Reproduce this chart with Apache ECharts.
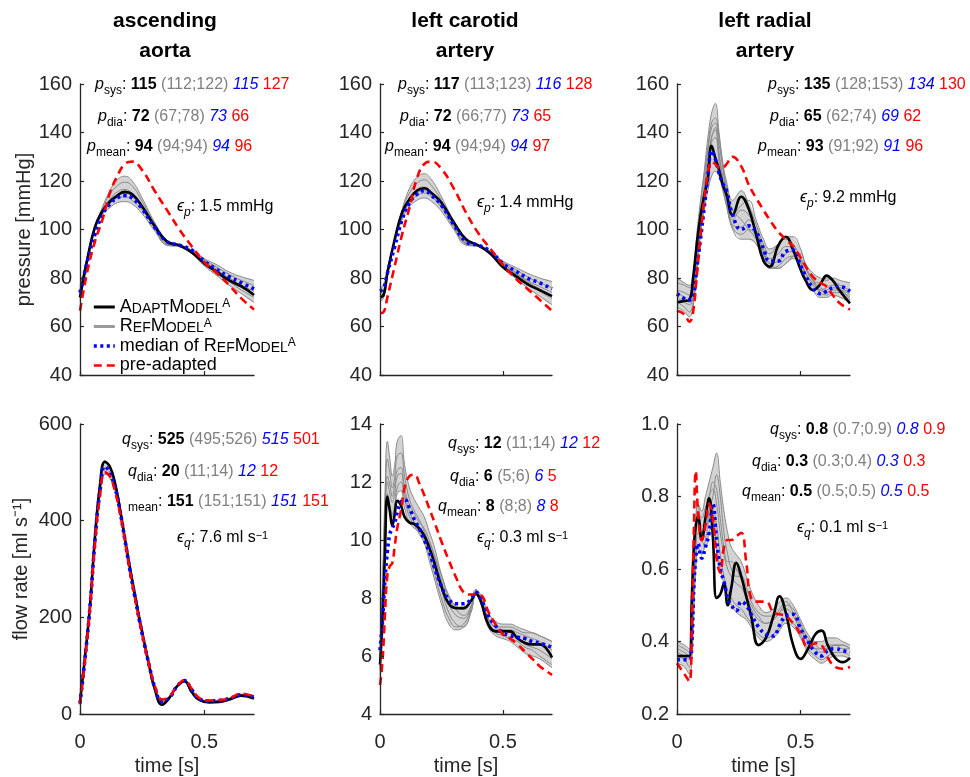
<!DOCTYPE html>
<html><head><meta charset="utf-8">
<script src="https://cdn.jsdelivr.net/npm/echarts@6/dist/echarts.min.js"></script>
<style>html,body{margin:0;padding:0;background:#fff}#c{width:970px;height:777px}</style>
</head><body><div id="c"></div>
<script>
// ---------------- DATA ----------------
// ascending aorta pressure [mmHg]
const T1 = [0, 0.03, 0.06, 0.09, 0.12, 0.15, 0.18, 0.21, 0.25, 0.30, 0.35, 0.40, 0.45, 0.50, 0.55, 0.60, 0.65, 0.70];
const aoP_black = [72, 88, 101, 107.5, 111.5, 114, 115.5, 114.5, 109.5, 101.5, 95, 93.5, 90.5, 86, 82.5, 79, 76.5, 73];
const aoP_red   = [66.5, 83, 95, 104, 115, 122, 127, 128, 124.5, 116, 108, 100, 93, 86.5, 82, 77, 71.5, 67];
const aoP_blue  = [74, 87, 98, 106, 110.5, 113, 114, 113, 108.5, 101, 95, 93.5, 91.5, 87, 83.5, 80.5, 78, 75.5];
const aoP_g1 = [70, 86, 100, 109, 116, 120.5, 122, 120, 113, 103, 95.5, 93, 90, 85, 81, 77, 73.5, 70];
const aoP_g2 = [71, 87, 101, 109, 114.5, 118, 119.5, 118, 111.5, 102.5, 95, 93.5, 90.5, 86, 82, 78.5, 75, 72];
const aoP_g3 = [72.5, 88, 101, 108, 112.5, 115.5, 116.5, 115, 110, 101.5, 94.5, 93.5, 91, 87, 83.5, 80, 77, 74.5];
const aoP_g4 = [74, 89, 101, 107, 110.5, 113, 113.5, 112, 108, 100.5, 94, 93.5, 91.5, 87.5, 84.5, 81.5, 79, 77];
const aoP_g5 = [75.5, 89, 100, 106, 109, 111, 111.5, 110.5, 106.5, 99.5, 93.5, 93, 91.5, 88, 85.5, 82.5, 80.5, 79];
const aoP_g6 = [73, 88, 100.5, 107.5, 111.5, 114, 115, 113.5, 109, 100.5, 93.5, 93, 90.5, 86.5, 83, 79.5, 76, 73.5];

// left carotid pressure [mmHg]
const T2 = [0, 0.015, 0.03, 0.06, 0.09, 0.12, 0.15, 0.18, 0.21, 0.25, 0.30, 0.35, 0.40, 0.45, 0.50, 0.55, 0.60, 0.65, 0.70];
const caP_black = [72, 73, 82, 96, 107, 112.5, 116, 117, 115, 111, 103, 96, 93.5, 90, 84.5, 81, 77.5, 75, 72.5];
const caP_red   = [65.5, 66, 72, 85, 98, 109, 121, 127, 128, 125, 117, 107, 98.5, 92, 85.5, 80, 75.5, 71, 66.5];
const caP_blue  = [74.5, 76, 82, 93, 104, 111, 114.5, 116, 114, 110, 102, 95, 93.5, 91, 86, 83, 80, 78, 75.5];
const caP_g1 = [70, 72, 81, 95, 108, 117, 121.5, 123, 120.5, 113.5, 103.5, 95.5, 93, 89.5, 84, 80, 76, 72.5, 69];
const caP_g2 = [71, 73, 82, 96, 108, 115, 119, 120.5, 118, 112, 102.5, 95, 93.5, 90, 85, 81.5, 78, 74.5, 71.5];
const caP_g3 = [72.5, 74, 83, 96, 107, 113, 116.5, 117.5, 115.5, 110.5, 102, 94.5, 93.5, 90.5, 86, 82.5, 79, 76.5, 74];
const caP_g4 = [74, 75, 83, 95, 105, 111, 114, 115, 113.5, 109, 101, 94, 93.5, 91, 86.5, 83.5, 80.5, 78, 76];
const caP_g5 = [76, 77, 84, 95, 104, 109.5, 112, 113, 111.5, 107.5, 100, 93.5, 93, 91, 87, 84.5, 82, 80, 78.5];
const caP_g6 = [73, 74, 82.5, 95.5, 106, 112, 115, 116, 114, 109.5, 101.5, 94, 93, 90.5, 85.5, 82, 78.5, 75.5, 72.5];

// left radial pressure [mmHg]
const T3 = [0, 0.03, 0.05, 0.065, 0.08, 0.095, 0.11, 0.125, 0.14, 0.155, 0.17, 0.185, 0.2, 0.225, 0.26, 0.29, 0.32, 0.35, 0.375, 0.41, 0.44, 0.47, 0.5, 0.52, 0.55, 0.58, 0.605, 0.63, 0.66, 0.7];
const raP_black = [70, 70.5, 71, 80, 94, 105.5, 114, 121, 134.5, 129.5, 124.5, 118.5, 114.5, 106, 113.5, 108.5, 98, 87, 84.7, 93.5, 97, 91.5, 83.5, 79, 75, 77.5, 81, 79, 74.5, 69.5];
const raP_red   = [66.5, 65, 62, 66, 81, 97, 112, 123, 128, 127, 125.5, 125.5, 127, 130, 126, 118.5, 113, 108, 104, 99, 96, 93, 88.5, 85, 80.5, 78, 76.5, 73, 69.5, 67];
const raP_blue  = [73.5, 71.5, 71, 72, 84, 96, 109, 122, 132.5, 129, 123.5, 119, 116, 106, 100, 101.5, 99, 92, 87, 87, 91, 91.5, 85, 81, 76, 73.5, 74.5, 76, 76.5, 74.5];
const raP_g1 = [78, 77, 76, 80, 98, 112, 124, 138, 148, 152, 140, 128, 120, 112, 116, 110, 102, 94, 90, 94, 96, 94, 88, 84, 79, 78, 80, 79, 77, 75];
const raP_g2 = [72, 70, 69, 72, 88, 104, 118, 132, 142, 144, 132, 122, 114, 104, 108, 106, 100, 92, 88, 90, 93, 92, 87, 82, 77, 75, 76, 77, 76, 74];
const raP_g3 = [68, 66, 64, 68, 82, 98, 112, 126, 138, 141, 135, 126, 118, 108, 104, 100, 96, 90, 86, 87, 90, 91, 88, 84, 79, 76, 75, 76, 75, 72];
const raP_g4 = [75, 74, 73, 76, 92, 106, 116, 128, 136, 138, 130, 120, 112, 101, 98, 100, 97, 89, 84, 85, 88, 89, 86, 80, 75, 72, 72, 73, 72, 70];
const raP_g5 = [80, 78, 77, 79, 95, 110, 122, 134, 144, 146, 138, 126, 116, 106, 110, 112, 104, 96, 92, 94, 97, 97, 92, 86, 82, 80, 79, 80, 79, 78];
const raP_g6 = [70, 68, 66, 70, 85, 100, 114, 128, 138, 142, 128, 118, 110, 102, 101, 104, 99, 91, 86, 84, 86, 89, 90, 85, 79, 74, 73, 74, 74, 71];
const raP_g7 = [74, 72, 70, 72, 85, 98, 108, 116, 122, 124, 122, 116, 110, 100, 96, 96, 94, 88, 84, 84, 86, 88, 86, 82, 78, 75, 74, 75, 75, 73];

// ascending aorta flow [ml/s]
const T4 = [0, 0.02, 0.04, 0.06, 0.08, 0.1, 0.12, 0.14, 0.16, 0.18, 0.2, 0.22, 0.24, 0.26, 0.28, 0.3, 0.33, 0.36, 0.39, 0.42, 0.45, 0.48, 0.52, 0.56, 0.6, 0.65, 0.7];
const aoQ_black = [25, 118, 222, 365, 472, 522, 512, 480, 427, 366, 305, 250, 195, 145, 96, 53, 19, 34, 57, 68, 45, 29, 24, 25, 30, 38, 32];
const aoQ_red   = [20, 110, 218, 350, 450, 500, 492, 462, 418, 360, 298, 243, 190, 142, 98, 60, 30, 36, 58, 70, 52, 33, 28, 29, 32, 42, 36];
const aoQ_blue  = [22, 114, 220, 357, 460, 512, 500, 470, 423, 362, 300, 245, 191, 142, 97, 57, 26, 34, 57, 69, 50, 31, 27, 28, 32, 40, 35];
const aoQ_g1 = [24, 117, 222, 362, 468, 524, 512, 480, 426, 365, 303, 248, 193, 144, 97, 56, 24, 35, 58, 70, 50, 31, 27, 28, 32, 40, 35];
const aoQ_g2 = [22, 112, 215, 350, 450, 496, 488, 462, 418, 360, 299, 244, 191, 143, 98, 59, 28, 36, 58, 69, 51, 32, 28, 29, 33, 41, 36];
const aoQ_g3 = [23, 115, 219, 356, 460, 510, 500, 471, 422, 362, 301, 246, 192, 143, 97, 57, 26, 35, 57, 69, 50, 31, 27, 28, 32, 40, 35];

// left carotid flow [ml/s]
const T5 = [0, 0.01, 0.02, 0.03, 0.04, 0.05, 0.06, 0.07, 0.085, 0.1, 0.12, 0.14, 0.16, 0.18, 0.2, 0.22, 0.25, 0.28, 0.31, 0.34, 0.37, 0.39, 0.41, 0.44, 0.47, 0.5, 0.53, 0.56, 0.59, 0.62, 0.65, 0.7];
const caQ_black = [5.7, 7.2, 9.5, 11.5, 11, 10.5, 10.9, 11.35, 11.2, 10.8, 10.6, 10.55, 10.4, 10.15, 9.75, 9.25, 8.4, 7.8, 7.65, 7.65, 7.9, 8.15, 7.9, 7.1, 6.85, 6.85, 6.85, 6.6, 6.45, 6.4, 6.4, 5.95];
const caQ_red   = [5, 5.8, 7.4, 8.8, 9.1, 9.2, 9.8, 10.4, 11, 11.8, 12.2, 12.25, 11.95, 11.55, 11.1, 10.65, 9.95, 9.3, 8.7, 8.2, 8.12, 8.12, 8.1, 7.55, 7.1, 6.75, 6.6, 6.4, 6.15, 5.9, 5.65, 5.35];
const caQ_blue  = [6.2, 7.2, 8.6, 9.6, 10.2, 10.4, 10.6, 10.95, 11.3, 11.4, 11.1, 10.7, 10.4, 10, 9.6, 9.1, 8.4, 7.95, 7.8, 7.8, 7.95, 8.2, 8.0, 7.4, 7.05, 6.8, 6.7, 6.65, 6.6, 6.5, 6.45, 6.3];
const caQ_g1 = [5.8, 8.5, 11.5, 13.4, 12.8, 12.2, 12.6, 13.4, 13.6, 12.6, 11.8, 11.4, 11.1, 10.8, 10.3, 9.8, 8.8, 8.0, 7.6, 7.4, 7.7, 8.2, 8.0, 7.3, 7.0, 7.0, 7.0, 6.9, 6.8, 6.8, 6.7, 6.5];
const caQ_g2 = [5.5, 8.0, 11.0, 12.8, 12.3, 11.8, 12.2, 12.9, 13.0, 12.2, 11.4, 11.0, 10.7, 10.3, 9.8, 9.2, 8.3, 7.5, 7.1, 7.0, 7.5, 8.1, 7.9, 7.2, 6.9, 6.9, 6.8, 6.6, 6.4, 6.3, 6.2, 5.9];
const caQ_g3 = [6.0, 8.2, 10.8, 12.2, 11.9, 11.5, 11.9, 12.4, 12.5, 11.8, 11.2, 10.9, 10.6, 10.4, 10.0, 9.5, 8.6, 7.8, 7.4, 7.3, 7.7, 8.2, 8.0, 7.3, 7.0, 6.9, 6.9, 6.8, 6.7, 6.6, 6.5, 6.2];
const caQ_g4 = [5.3, 7.5, 10.2, 11.6, 11.2, 10.9, 11.2, 11.8, 12.0, 11.4, 10.8, 10.5, 10.2, 9.9, 9.3, 8.7, 7.8, 7.1, 6.9, 7.0, 7.5, 8.1, 7.8, 7.0, 6.7, 6.6, 6.5, 6.3, 6.1, 6.0, 5.9, 5.6];
const caQ_g5 = [6.3, 8.3, 10.5, 11.4, 11.0, 10.8, 11.1, 11.6, 11.7, 11.1, 10.6, 10.4, 10.3, 10.1, 9.9, 9.5, 8.8, 8.1, 7.7, 7.6, 7.9, 8.3, 8.1, 7.5, 7.2, 7.1, 7.1, 7.0, 6.9, 6.8, 6.7, 6.5];
const caQ_g6 = [5.6, 7.8, 10.6, 12.0, 11.6, 11.3, 11.6, 12.2, 12.3, 11.6, 11.0, 10.6, 10.3, 10.0, 9.5, 8.9, 8.0, 7.3, 7.0, 7.1, 7.6, 8.15, 7.9, 7.1, 6.8, 6.7, 6.6, 6.5, 6.3, 6.2, 6.0, 5.7];

// left radial flow [ml/s]
const T6 = [0, 0.03, 0.05, 0.06, 0.068, 0.076, 0.085, 0.1, 0.115, 0.13, 0.145, 0.16, 0.175, 0.19, 0.205, 0.22, 0.24, 0.26, 0.28, 0.3, 0.33, 0.36, 0.39, 0.415, 0.44, 0.47, 0.5, 0.53, 0.56, 0.585, 0.61, 0.64, 0.67, 0.7];
const raQ_black = [0.36, 0.36, 0.36, 0.52, 0.66, 0.72, 0.745, 0.68, 0.74, 0.795, 0.69, 0.52, 0.53, 0.56, 0.50, 0.55, 0.617, 0.58, 0.525, 0.47, 0.39, 0.41, 0.47, 0.525, 0.48, 0.39, 0.352, 0.38, 0.42, 0.43, 0.39, 0.355, 0.343, 0.355];
const raQ_red   = [0.34, 0.31, 0.29, 0.45, 0.70, 0.87, 0.76, 0.68, 0.72, 0.78, 0.74, 0.63, 0.59, 0.66, 0.68, 0.68, 0.69, 0.70, 0.62, 0.52, 0.51, 0.51, 0.48, 0.475, 0.47, 0.45, 0.42, 0.385, 0.395, 0.39, 0.355, 0.33, 0.325, 0.33];
const raQ_blue  = [0.35, 0.35, 0.35, 0.40, 0.55, 0.63, 0.67, 0.63, 0.66, 0.70, 0.78, 0.68, 0.60, 0.565, 0.52, 0.50, 0.485, 0.51, 0.50, 0.475, 0.44, 0.42, 0.415, 0.445, 0.47, 0.475, 0.435, 0.40, 0.37, 0.36, 0.375, 0.38, 0.375, 0.37];
const raQ_g1 = [0.40, 0.39, 0.38, 0.45, 0.62, 0.74, 0.78, 0.76, 0.80, 0.84, 0.88, 0.92, 0.84, 0.76, 0.70, 0.66, 0.64, 0.62, 0.58, 0.54, 0.50, 0.48, 0.49, 0.51, 0.52, 0.50, 0.46, 0.42, 0.40, 0.40, 0.41, 0.41, 0.40, 0.39];
const raQ_g2 = [0.37, 0.36, 0.35, 0.40, 0.56, 0.68, 0.74, 0.70, 0.74, 0.80, 0.82, 0.78, 0.70, 0.64, 0.60, 0.58, 0.56, 0.55, 0.52, 0.49, 0.46, 0.45, 0.46, 0.48, 0.49, 0.47, 0.43, 0.40, 0.38, 0.38, 0.39, 0.39, 0.38, 0.38];
const raQ_g3 = [0.34, 0.33, 0.31, 0.35, 0.48, 0.60, 0.66, 0.64, 0.68, 0.74, 0.76, 0.72, 0.64, 0.58, 0.54, 0.52, 0.50, 0.49, 0.47, 0.45, 0.42, 0.41, 0.42, 0.44, 0.46, 0.45, 0.42, 0.38, 0.36, 0.35, 0.36, 0.37, 0.37, 0.36];
const raQ_g4 = [0.38, 0.37, 0.36, 0.42, 0.58, 0.70, 0.76, 0.74, 0.77, 0.80, 0.84, 0.82, 0.74, 0.66, 0.62, 0.62, 0.60, 0.57, 0.53, 0.50, 0.47, 0.45, 0.46, 0.48, 0.50, 0.49, 0.45, 0.41, 0.39, 0.38, 0.38, 0.39, 0.39, 0.38];
const raQ_g5 = [0.36, 0.35, 0.33, 0.37, 0.50, 0.62, 0.70, 0.68, 0.66, 0.70, 0.72, 0.66, 0.60, 0.56, 0.52, 0.50, 0.48, 0.47, 0.46, 0.44, 0.41, 0.40, 0.41, 0.43, 0.45, 0.44, 0.41, 0.37, 0.35, 0.34, 0.35, 0.36, 0.36, 0.35];
const raQ_g6 = [0.39, 0.38, 0.37, 0.43, 0.60, 0.72, 0.78, 0.72, 0.72, 0.76, 0.80, 0.86, 0.80, 0.70, 0.64, 0.60, 0.58, 0.58, 0.55, 0.51, 0.48, 0.47, 0.47, 0.49, 0.51, 0.48, 0.44, 0.40, 0.38, 0.37, 0.38, 0.39, 0.39, 0.38];

// annotation values: [adapted, (RefModel range), median, pre-adapted]
const aoP_sys = ['115', '(112;122)', '115', '127'];
const aoP_dia = ['72', '(67;78)', '73', '66'];
const aoP_mean = ['94', '(94;94)', '94', '96'];
const aoP_err = '1.5 mmHg';
const caP_sys = ['117', '(113;123)', '116', '128'];
const caP_dia = ['72', '(66;77)', '73', '65'];
const caP_mean = ['94', '(94;94)', '94', '97'];
const caP_err = '1.4 mmHg';
const raP_sys = ['135', '(128;153)', '134', '130'];
const raP_dia = ['65', '(62;74)', '69', '62'];
const raP_mean = ['93', '(91;92)', '91', '96'];
const raP_err = '9.2 mmHg';
const aoQ_sys = ['525', '(495;526)', '515', '501'];
const aoQ_dia = ['20', '(11;14)', '12', '12'];
const aoQ_mean = ['151', '(151;151)', '151', '151'];
const aoQ_err = '7.6 ml s';
const caQ_sys = ['12', '(11;14)', '12', '12'];
const caQ_dia = ['6', '(5;6)', '6', '5'];
const caQ_mean = ['8', '(8;8)', '8', '8'];
const caQ_err = '0.3 ml s';
const raQ_sys = ['0.8', '(0.7;0.9)', '0.8', '0.9'];
const raQ_dia = ['0.3', '(0.3;0.4)', '0.3', '0.3'];
const raQ_mean = ['0.5', '(0.5;0.5)', '0.5', '0.5'];
const raQ_err = '0.1 ml s';

const panelTitles = ['ascending\naorta', 'left carotid\nartery', 'left radial\nartery'];
const yNames = ['pressure [mmHg]', 'flow rate [ml s\u207B\u00B9]'];
const xName = 'time [s]';
const xTicks = [0, 0.5];
const legendNames = ['AdaptModel', 'RefModel', 'median', 'pre-adapted'];
const legendTexts = [
  '{B|A}{S|DAPT}{B|M}{S|ODEL}{P|A}',
  '{B|R}{S|EF}{B|M}{S|ODEL}{P|A}',
  '{N|median of }{B|R}{S|EF}{B|M}{S|ODEL}{P|A}',
  '{N|pre-adapted}'
];

// ---------------- CHART ----------------
const FONT = '"Liberation Sans", Arial, Helvetica, sans-serif';
const AX = '#262626';
const zip = (T, Y) => T.map((t, i) => [t, Y[i]]);

const panels = [
  {g: {left: 80, top: 84, width: 174, height: 291}, y: [40, 160, 20], T: T1, k: aoP_black, r: aoP_red, b: aoP_blue, grey: [aoP_g1, aoP_g2, aoP_g3, aoP_g4, aoP_g5, aoP_g6], bottom: false},
  {g: {left: 380, top: 84, width: 172, height: 291}, y: [40, 160, 20], T: T2, k: caP_black, r: caP_red, b: caP_blue, grey: [caP_g1, caP_g2, caP_g3, caP_g4, caP_g5, caP_g6], bottom: false},
  {g: {left: 677, top: 84, width: 173, height: 291}, y: [40, 160, 20], T: T3, k: raP_black, r: raP_red, b: raP_blue, grey: [raP_g1, raP_g2, raP_g3, raP_g4, raP_g5, raP_g6, raP_g7], bottom: false},
  {g: {left: 80, top: 424, width: 174, height: 293}, y: [0, 600, 200], T: T4, k: aoQ_black, r: aoQ_red, b: aoQ_blue, grey: [aoQ_g1, aoQ_g2, aoQ_g3], bottom: true},
  {g: {left: 380, top: 424, width: 172, height: 293}, y: [4, 14, 2], T: T5, k: caQ_black, r: caQ_red, b: caQ_blue, grey: [caQ_g1, caQ_g2, caQ_g3, caQ_g4, caQ_g5, caQ_g6], bottom: true},
  {g: {left: 677, top: 424, width: 173, height: 292}, y: [0.2, 1.0, 0.2], T: T6, k: raQ_black, r: raQ_red, b: raQ_blue, grey: [raQ_g1, raQ_g2, raQ_g3, raQ_g4, raQ_g5, raQ_g6], bottom: true, fmt: v => v.toFixed(1)}
];

const grids = [], xAxes = [], yAxes = [], series = [];
const SM = 0.45;
panels.forEach((p, i) => {
  grids.push(Object.assign({containLabel: false}, p.g));
  xAxes.push({
    gridIndex: i, type: 'value', min: 0, max: 0.7, interval: 0.5, z: 10,
    axisLine: {show: true, onZero: false, lineStyle: {color: AX, width: 1.3}},
    axisTick: {show: true, inside: true, length: 4, customValues: xTicks, lineStyle: {color: AX, width: 1.2}},
    axisLabel: {show: p.bottom, customValues: xTicks, fontSize: 20, color: AX, margin: 18, fontFamily: FONT},
    splitLine: {show: false},
    name: p.bottom ? xName : '', nameLocation: 'middle', nameGap: 42,
    nameTextStyle: {fontSize: 20, color: AX, fontFamily: FONT}
  });
  yAxes.push({
    gridIndex: i, type: 'value', min: p.y[0], max: p.y[1], interval: p.y[2], z: 10,
    axisLine: {show: true, onZero: false, lineStyle: {color: AX, width: 1.3}},
    axisTick: {show: true, inside: true, length: 4, lineStyle: {color: AX, width: 1.2}},
    axisLabel: {fontSize: 20, color: AX, margin: 8, fontFamily: FONT, formatter: p.fmt || null},
    splitLine: {show: false},
    name: i === 0 ? yNames[0] : (i === 3 ? yNames[1] : ''),
    nameLocation: 'middle', nameGap: i === 0 ? 45 : 49,
    nameTextStyle: {fontSize: 20, color: AX, fontFamily: FONT}
  });
  // grey envelope band of the RefModel curves, drawn through the axis scales
  const lo = p.T.map((_, j) => Math.min(...p.grey.map(a => a[j])));
  const hi = p.T.map((_, j) => Math.max(...p.grey.map(a => a[j])));
  const T = p.T;
  series.push({
    type: 'custom', name: 'band', xAxisIndex: i, yAxisIndex: i, silent: true, z: 1, clip: true,
    data: [[T[0], lo[0]]],
    renderItem: (params, api) => {
      const pts = [];
      for (let j = 0; j < T.length; j++) pts.push(api.coord([T[j], hi[j]]));
      for (let j = T.length - 1; j >= 0; j--) pts.push(api.coord([T[j], lo[j]]));
      return {type: 'polygon', shape: {points: pts, smooth: 0.25}, style: {fill: 'rgba(140,140,140,0.38)', stroke: null}};
    }
  });
  const common = {type: 'line', xAxisIndex: i, yAxisIndex: i, symbol: 'none', smooth: SM, silent: true};
  p.grey.forEach(gr => series.push(Object.assign({}, common, {name: 'RefModel', data: zip(p.T, gr), lineStyle: {color: '#8a8a8a', width: 1}, z: 2})));
  series.push(Object.assign({}, common, {name: 'AdaptModel', data: zip(p.T, p.k), lineStyle: {color: '#000000', width: 2.6}, z: 4}));
  series.push(Object.assign({}, common, {name: 'median', data: zip(p.T, p.b), lineStyle: {color: '#0000ff', width: 3.6, type: [3, 3.5]}, z: 5}));
  series.push(Object.assign({}, common, {name: 'pre-adapted', data: zip(p.T, p.r), lineStyle: {color: '#ff0000', width: 2.6, type: [8, 5]}, z: 6}));
});

// rich styles for annotations
const mk = (o) => Object.assign({fontFamily: FONT, fontSize: 16, lineHeight: 16, verticalAlign: 'top', fill: '#000', color: '#000'}, o);
const annRich = {
  it: mk({fontStyle: 'italic'}),
  n: mk({}),
  b: mk({fontWeight: 'bold'}),
  g: mk({color: '#808080', fill: '#808080'}),
  bl: mk({color: '#0000ff', fill: '#0000ff', fontStyle: 'italic'}),
  r: mk({color: '#ff0000', fill: '#ff0000'}),
  sub: mk({fontSize: 12, lineHeight: 12, padding: [8, 0, 0, 0]}),
  subi: mk({fontSize: 12, lineHeight: 12, padding: [8, 0, 0, 0], fontStyle: 'italic'}),
  sup: mk({fontSize: 11, lineHeight: 11})
};
function valLine(sym, sub, v) {
  return (sym ? '{it|' + sym + '}' : '') + '{sub|' + sub + '}{n|: }{b|' + v[0] + '}{n| }{g|' + v[1] + '}{n| }{bl|' + v[2] + '}{n| }{r|' + v[3] + '}';
}
function errLine(sub, txt, flow) {
  return '{it|\u03F5}{subi|' + sub + '}{n|: ' + txt + '}' + (flow ? '{sup|\u22121}' : '');
}
function txt(x, yc, text) {
  return {type: 'text', x: x, y: yc - 8, z: 100, silent: true,
    style: {text: text, rich: annRich, fontFamily: FONT, fontSize: 16, fill: '#000', align: 'left', verticalAlign: 'top'}};
}
const graphics = [
  txt(95, 85, valLine('p', 'sys', aoP_sys)), txt(98, 117, valLine('p', 'dia', aoP_dia)), txt(87, 147, valLine('p', 'mean', aoP_mean)), txt(177, 207, errLine('p', aoP_err, false)),
  txt(398, 85, valLine('p', 'sys', caP_sys)), txt(400, 117, valLine('p', 'dia', caP_dia)), txt(385, 147, valLine('p', 'mean', caP_mean)), txt(477, 203, errLine('p', caP_err, false)),
  txt(768, 85, valLine('p', 'sys', raP_sys)), txt(770, 117, valLine('p', 'dia', raP_dia)), txt(758, 147, valLine('p', 'mean', raP_mean)), txt(800, 198, errLine('p', raP_err, false)),
  txt(122, 440, valLine('q', 'sys', aoQ_sys)), txt(128, 472, valLine('q', 'dia', aoQ_dia)), txt(128, 502, valLine('', 'mean', aoQ_mean)), txt(177, 538, errLine('q', aoQ_err, true)),
  txt(448, 444, valLine('q', 'sys', caQ_sys)), txt(450, 477, valLine('q', 'dia', caQ_dia)), txt(438, 507, valLine('q', 'mean', caQ_mean)), txt(477, 538, errLine('q', caQ_err, true)),
  txt(770, 430, valLine('q', 'sys', raQ_sys)), txt(752, 462, valLine('q', 'dia', raQ_dia)), txt(742, 492, valLine('q', 'mean', raQ_mean)), txt(797, 528, errLine('q', raQ_err, true))
];
const titleX = [165, 465, 765];
panelTitles.forEach((t, i) => graphics.push({type: 'text', x: titleX[i], y: 6.5, silent: true,
  style: {text: t, fontFamily: FONT, fontSize: 21, fontWeight: 'bold', lineHeight: 29.5, fill: '#000', align: 'center', verticalAlign: 'top'}}));

const legRich = {
  B: {fontFamily: FONT, fontSize: 18, lineHeight: 18, verticalAlign: 'bottom', color: '#000'},
  S: {fontFamily: FONT, fontSize: 14, lineHeight: 14, verticalAlign: 'bottom', color: '#000'},
  P: {fontFamily: FONT, fontSize: 12, lineHeight: 12, verticalAlign: 'top', color: '#000'},
  N: {fontFamily: FONT, fontSize: 18, lineHeight: 18, verticalAlign: 'bottom', color: '#000'}
};
const legendStyles = [
  {color: '#000000', width: 3, type: 'solid'},
  {color: '#9a9a9a', width: 3, type: 'solid'},
  {color: '#0000ff', width: 3.6, type: [3, 3.5]},
  {color: '#ff0000', width: 2.6, type: [8, 5]}
];
const hiddenSym = {color: 'rgba(0,0,0,0)', borderWidth: 0, opacity: 0};

const option = {
  animation: false,
  backgroundColor: '#ffffff',
  grid: grids, xAxis: xAxes, yAxis: yAxes, series: series,
  legend: {
    orient: 'vertical', left: 87, top: 293, itemWidth: 21, itemHeight: 12, itemGap: 1.5,
    selectedMode: false, padding: 5,
    data: legendNames.map((n, i) => ({name: n, lineStyle: legendStyles[i], itemStyle: hiddenSym})),
    formatter: name => legendTexts[legendNames.indexOf(name)],
    textStyle: {fontFamily: FONT, fontSize: 18, color: '#000', rich: legRich}
  },
  graphic: graphics
};
const chart = echarts.init(document.getElementById('c'), null, {renderer: 'canvas'});
chart.setOption(option);
</script></body></html>
